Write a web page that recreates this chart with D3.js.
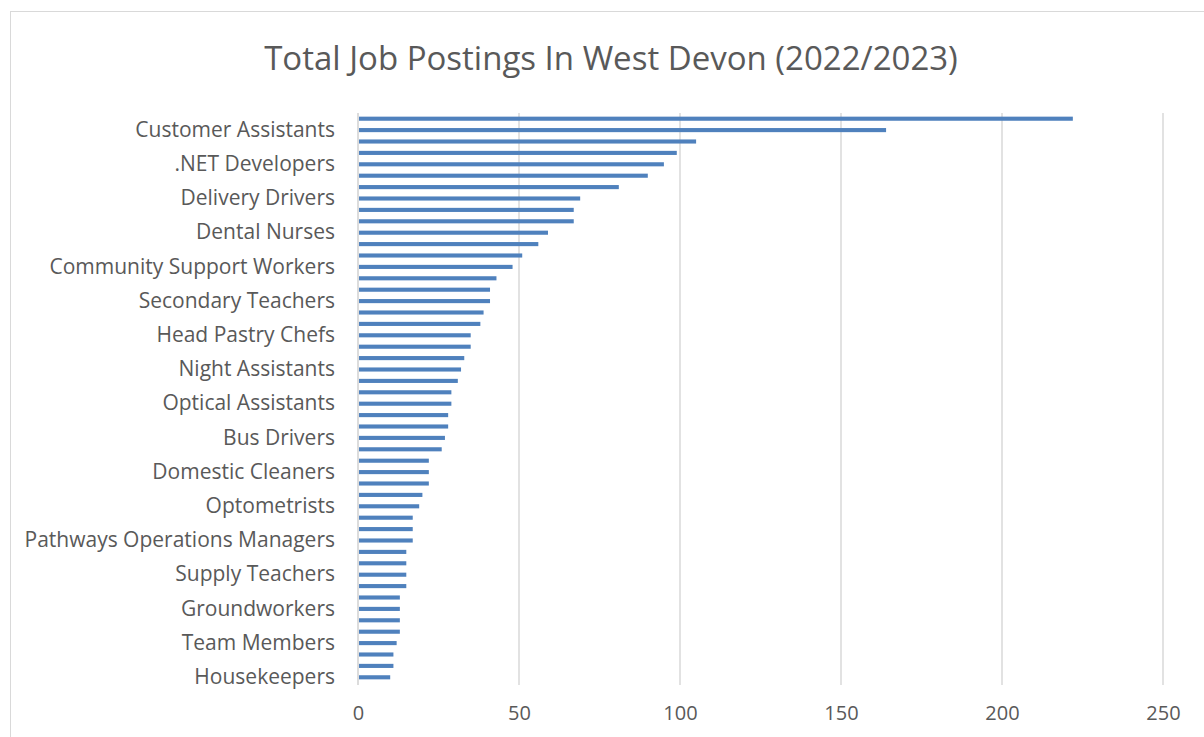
<!DOCTYPE html>
<html>
<head>
<meta charset="utf-8">
<script src="https://cdn.jsdelivr.net/npm/d3@7"></script>
<style>
  html, body { margin: 0; padding: 0; background: #ffffff; }
  svg { display: block; }
</style>
</head>
<body>
<svg id="chart" width="1204" height="737"></svg>
<script>
// Job titles, ordered from the most postings (top) to the fewest (bottom)
const categories = [
  "Care Assistants", "Customer Assistants", "Support Workers", "Healthcare Assistants",
  ".NET Developers", "Warehouse Operatives", "Kitchen Assistants", "Delivery Drivers",
  "Chefs", "Retail Assistants", "Dental Nurses", "Registered Nurses", "Cleaners",
  "Community Support Workers", "Teaching Assistants", "Bar Staff", "Secondary Teachers",
  "Sales Assistants", "Waiting Staff", "Head Pastry Chefs", "Receptionists",
  "Administrators", "Night Assistants", "Primary Teachers", "Sous Chefs",
  "Optical Assistants", "HGV Drivers", "Domiciliary Carers", "Bus Drivers", "Porters",
  "Electricians", "Domestic Cleaners", "Accountants", "Veterinary Nurses",
  "Optometrists", "Social Workers", "Mechanics", "Pathways Operations Managers",
  "Housekeeping Assistants", "Store Managers", "Supply Teachers", "Plumbers",
  "Baristas", "Groundworkers", "Labourers", "Pharmacists", "Team Members",
  "Carpenters", "Gardeners", "Housekeepers"
];

// Number of postings per job title
const postings = [
  222, 164, 105, 99, 95, 90, 81, 69, 67, 67,
  59, 56, 51, 48, 43, 41, 41, 39, 38, 35,
  35, 33, 32, 31, 29, 29, 28, 28, 27, 26,
  22, 22, 22, 20, 19, 17, 17, 17, 15, 15,
  15, 15, 13, 13, 13, 13, 12, 11, 11, 10
];

// Every third job title is shown on the category axis
const shownLabels = [
  "Customer Assistants", ".NET Developers", "Delivery Drivers", "Dental Nurses",
  "Community Support Workers", "Secondary Teachers", "Head Pastry Chefs",
  "Night Assistants", "Optical Assistants", "Bus Drivers", "Domestic Cleaners",
  "Optometrists", "Pathways Operations Managers", "Supply Teachers",
  "Groundworkers", "Team Members", "Housekeepers"
];

const xTicks = [0, 50, 100, 150, 200, 250];
const titleText = "Total Job Postings In West Devon (2022/2023)";

const rows = categories.map((c, i) => ({ name: c, value: postings[i] }));

const svg = d3.select("#chart");
const font = "'Open Sans', sans-serif";
const textColor = "#595959";

const plot = { left: 358, right: 1163, top: 113, bottom: 683 };

// chart frame
svg.append("rect")
  .attr("x", 10.5).attr("y", 11.5)
  .attr("width", 1220).attr("height", 760)
  .attr("fill", "#ffffff")
  .attr("stroke", "#d9d9d9")
  .attr("stroke-width", 1);

const x = d3.scaleLinear().domain([0, 250]).range([plot.left, plot.right]);
const y = d3.scaleBand()
  .domain(categories)
  .range([plot.top, plot.bottom])
  .paddingInner(0.64)
  .paddingOuter(0.32);

// vertical gridlines
svg.append("g")
  .selectAll("line")
  .data(xTicks.slice(1))
  .join("line")
  .attr("x1", d => x(d)).attr("x2", d => x(d))
  .attr("y1", plot.top).attr("y2", plot.bottom + 2)
  .attr("stroke", "#d9d9d9")
  .attr("stroke-width", 1.5);

// bars
svg.append("g")
  .selectAll("rect")
  .data(rows)
  .join("rect")
  .attr("x", x(0) + 1)
  .attr("y", d => y(d.name))
  .attr("width", d => x(d.value) - x(0) - 1)
  .attr("height", y.bandwidth())
  .attr("fill", "#4f81bd");

// category axis line
svg.append("line")
  .attr("x1", x(0)).attr("x2", x(0))
  .attr("y1", plot.top).attr("y2", plot.bottom + 2)
  .attr("stroke", "#d0d0d0")
  .attr("stroke-width", 1.5);

// category axis labels
const yAxis = d3.axisLeft(y)
  .tickValues(shownLabels)
  .tickSize(0)
  .tickPadding(23);
const gy = svg.append("g")
  .attr("transform", `translate(${x(0)},0)`)
  .call(yAxis);
gy.select(".domain").remove();
gy.selectAll("text")
  .attr("font-family", font)
  .attr("font-size", 21)
  .attr("fill", textColor);

// value axis labels
const xAxis = d3.axisBottom(x)
  .tickValues(xTicks)
  .tickSize(0)
  .tickPadding(23);
const gx = svg.append("g")
  .attr("transform", `translate(0,${plot.bottom})`)
  .call(xAxis);
gx.select(".domain").remove();
gx.selectAll("text")
  .attr("font-family", font)
  .attr("font-size", 20)
  .attr("fill", textColor);

// title
svg.append("text")
  .attr("x", 611)
  .attr("y", 70)
  .attr("text-anchor", "middle")
  .attr("font-family", font)
  .attr("font-size", 33)
  .attr("fill", textColor)
  .text(titleText);
</script>
</body>
</html>
